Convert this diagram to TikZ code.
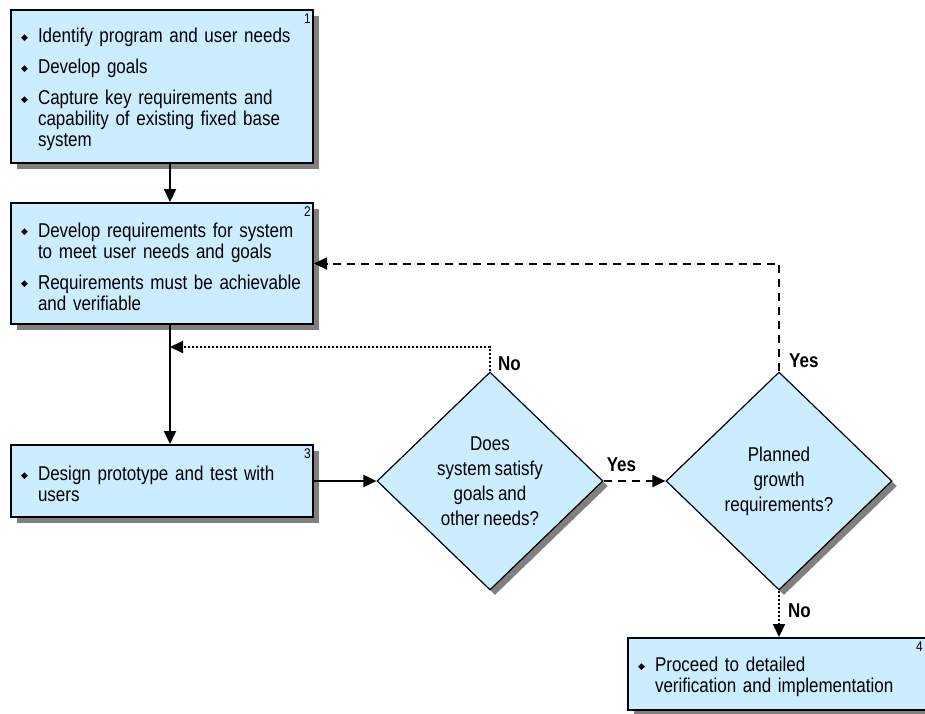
\documentclass[tikz,border=0pt]{standalone}
\usepackage{fontspec}
\setmainfont{Liberation Sans}[FakeStretch=0.85, WordSpace=0.8]
\newfontfamily\symfont{DejaVu Sans}
\usetikzlibrary{shapes.geometric,shadows,arrows.meta}
\definecolor{boxblue}{HTML}{CCECFF}
\definecolor{shade}{HTML}{808080}
\newcommand{\bitem}{\par\hangindent=17pt\hangafter=1\noindent\makebox[17pt][l]{\raisebox{2.5pt}{\symfont\fontsize{9}{9}\selectfont ◆}}}
\newcommand{\bgap}{\par\vskip10pt}
\tikzset{every node/.style={font=\fontsize{20}{21}\selectfont},
  stage/.style={draw, line width=2pt, fill=boxblue, text width=282pt, inner xsep=10pt, inner ysep=3pt, minimum width=302pt, align=left,
    drop shadow={fill=shade, opacity=1, shadow xshift=6pt, shadow yshift=-6pt}},
  decision/.style={diamond, draw, line width=1.2pt, fill=boxblue, inner sep=0pt, minimum width=226pt, minimum height=218pt, align=center,
    font=\fontsize{20}{25}\selectfont, drop shadow={fill=shade, opacity=1, shadow xshift=5pt, shadow yshift=-5pt}},
  num/.style={anchor=north east, inner sep=0pt, font=\fontsize{14}{14}\selectfont},
  lab/.style={inner sep=1pt, font=\bfseries\fontsize{20}{21}\selectfont},
  flow/.style={line width=2pt, -{Triangle[length=13pt,width=12pt]}},
  dashflow/.style={flow, dash pattern=on 8pt off 6pt},
  dotflow/.style={flow, dash pattern=on 2pt off 2pt}}
\begin{document}
\begin{tikzpicture}[x=1pt, y=-1pt]
  \useasboundingbox (0,0) rectangle (925,713);
  \node[stage, minimum height=153pt] (needs) at (162, 86.5)
    {\bitem Identify program and user needs\bgap\bitem Develop goals\bgap\bitem Capture key requirements and\newline capability of existing fixed base\newline system\par};
  \node[stage, minimum height=121pt] (reqs) at (162,263.5)
    {\bitem Develop requirements for system\newline to meet user needs and goals\bgap\bitem Requirements must be achievable\newline and verifiable\par};
  \node[stage, minimum height=72pt] (proto) at (162,481)
    {\bitem Design prototype and test with\newline users\par};
  \node[stage, minimum height=72pt] (impl) at (779,674)
    {\bitem Proceed to detailed\newline verification and implementation\par};
  \node[decision] (satisfy) at (490,481) {Does\\system satisfy\\goals and\\other needs?};
  \node[decision] (growth) at (779,481) {Planned\\growth\\requirements?};

  \node[num] (n1) at ([xshift=-3pt,yshift=-5pt]needs.north east) {1};
  \node[num] (n2) at ([xshift=-3pt,yshift=-5pt]reqs.north east) {2};
  \node[num] (n3) at ([xshift=-3pt,yshift=-5pt]proto.north east) {3};
  \node[num] (n4) at ([xshift=-8pt,yshift=-5pt]impl.north east) {4};

  \coordinate (spine) at (170,0);
  \coordinate (retry) at (170,347);

  \draw[flow] (needs.south -| spine) -- (reqs.north -| spine);
  \draw[flow] (reqs.south -| spine) -- (proto.north -| spine);
  \draw[flow] (proto.east) -- (satisfy.west);
  \draw[dashflow] (satisfy.east) -- (growth.west);
  \draw[dashflow] (growth.north) |- (reqs.east);
  \draw[dotflow] (satisfy.north) |- (retry);
  \draw[dotflow] (growth.south) -- (impl.north);

  \node[lab, anchor=south west] (no1) at ([xshift=7pt]satisfy.north) {No};
  \node[lab, anchor=south west] (yes1) at ([xshift=2pt,yshift=8pt]satisfy.east) {Yes};
  \node[lab, anchor=south west] (yes2) at ([xshift=9pt,yshift=3pt]growth.north) {Yes};
  \node[lab, anchor=north west] (no2) at ([xshift=8pt,yshift=-12pt]growth.south) {No};
\end{tikzpicture}
\end{document}
